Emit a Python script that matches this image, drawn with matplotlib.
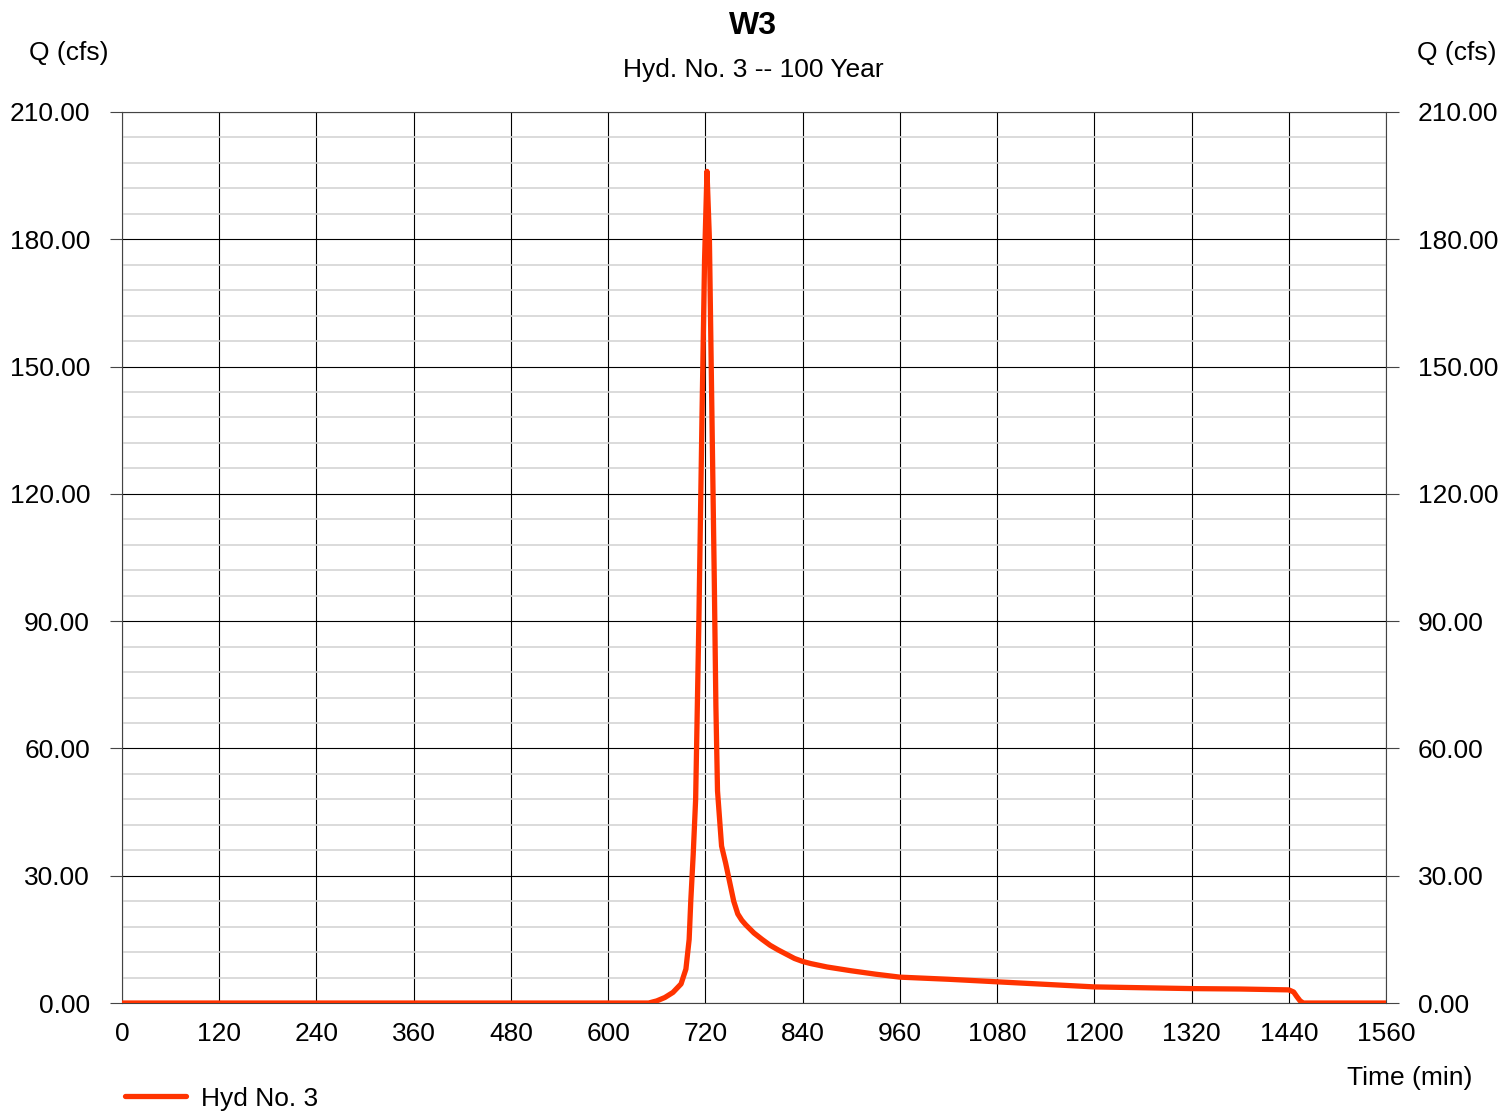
import matplotlib
matplotlib.use("Agg")
import matplotlib.pyplot as plt
from matplotlib.ticker import MultipleLocator, FormatStrFormatter

plt.rcParams['font.family'] = ['Liberation Sans', 'DejaVu Sans']

# Hydrograph (time in min, flow in cfs)
time_min = [0, 650, 660, 670, 680, 690, 696, 700, 702, 705, 708, 712, 716, 719, 722,
            725, 728, 731, 733, 735, 740, 745, 750, 755, 760, 765, 770, 780, 790,
            800, 810, 820, 830, 840, 850, 870, 900, 930, 960, 1020, 1080, 1140,
            1200, 1260, 1320, 1380, 1440, 1446, 1450, 1454, 1458, 1560]
flow_cfs = [0, 0, 0.5, 1.3, 2.5, 4.5, 8, 15, 24, 35, 48, 90, 140, 175, 196,
            180, 140, 100, 70, 50, 37, 33, 28.5, 24, 21, 19.5, 18.4, 16.5, 15,
            13.6, 12.5, 11.5, 10.5, 9.8, 9.3, 8.5, 7.6, 6.8, 6.1, 5.6, 5.0, 4.4,
            3.8, 3.6, 3.4, 3.3, 3.1, 2.6, 1.5, 0.5, 0, 0]

x_ticks = list(range(0, 1561, 120))
y_ticks = list(range(0, 211, 30))

fig = plt.figure(figsize=(15, 11.12), dpi=100)
ax = fig.add_axes([0.0813, 0.098, 0.8427, 0.8013])

ax.plot(time_min, flow_cfs, color='#ff3300', lw=3.8, solid_capstyle='round',
        solid_joinstyle='round', zorder=5, label='Hyd No. 3')

ax.set_xlim(0, 1560)
ax.set_ylim(0, 210)
ax.set_xticks(x_ticks)
ax.set_yticks(y_ticks)
ax.yaxis.set_minor_locator(MultipleLocator(6))
ax.yaxis.set_major_formatter(FormatStrFormatter('%.2f'))

ax.grid(which='major', color='black', lw=0.8, zorder=1)
ax.grid(which='minor', axis='y', color='#d4d4d4', lw=1.2, zorder=0)

ax.tick_params(axis='y', which='major', length=9, width=0.8, color='#444444',
               labelsize=19, pad=14, left=True, right=True,
               labelleft=True, labelright=True)
ax.tick_params(axis='y', which='minor', length=0)
ax.tick_params(axis='x', length=0, labelsize=19, pad=14)

for s in ax.spines.values():
    s.set_color('#444444')
    s.set_linewidth(0.8)

fig.text(0.502, 0.977, 'W3', ha='center', va='center', fontsize=23, fontweight='bold')
fig.text(0.502, 0.937, 'Hyd. No. 3 -- 100 Year', ha='center', va='center', fontsize=19)
fig.text(0.046, 0.952, 'Q (cfs)', ha='center', va='center', fontsize=19)
fig.text(0.971, 0.952, 'Q (cfs)', ha='center', va='center', fontsize=19)
fig.text(0.940, 0.031, 'Time (min)', ha='center', va='center', fontsize=19)

leg = ax.legend(loc='upper left', bbox_to_anchor=(-0.006, -0.082), frameon=False,
                fontsize=19, handlelength=2.3, handletextpad=0.6, borderaxespad=0)

fig.savefig('out.png', dpi=100)
